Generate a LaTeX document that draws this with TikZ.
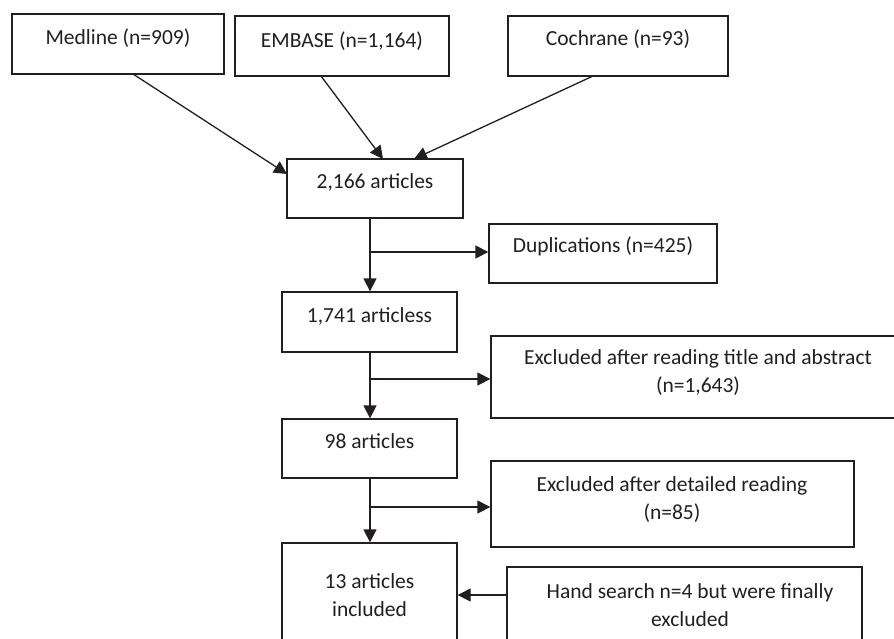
\documentclass[tikz,border=0pt]{standalone}
\usepackage{fontspec}
\setmainfont{Carlito}
\usetikzlibrary{arrows.meta,calc}
\definecolor{ink}{HTML}{231F20}
\tikzset{
  box/.style={draw=ink, line width=1.3pt, rectangle, inner sep=0pt, anchor=center},
  lbl/.style={text=ink, font=\fontsize{21.5}{28}\selectfont, align=center, inner sep=0pt},
  conn/.style={draw=ink, line width=1.3pt, -{Triangle[length=13pt,width=13pt]}},
}
\begin{document}
\begin{tikzpicture}[x=1pt,y=-1pt]
\clip (0,0) rectangle (894,638);
\fill[white] (0,0) rectangle (894,638);
% boxes
\node[box, minimum width=212, minimum height=60] (med) at (118,44) {};
\node[box, minimum width=214, minimum height=60] (emb) at (342,46) {};
\node[box, minimum width=220, minimum height=60] (coc) at (618,46) {};
\node[box, minimum width=176, minimum height=59] (a2166) at (375,188.5) {};
\node[box, minimum width=228, minimum height=59] (dup) at (603,253.5) {};
\node[box, minimum width=175, minimum height=60] (a1741) at (369.5,322) {};
\node[box, minimum width=414, minimum height=82] (ex1) at (698,377) {};
\node[box, minimum width=175, minimum height=59] (a98) at (369.5,448.5) {};
\node[box, minimum width=363, minimum height=86] (ex2) at (672.5,504) {};
\node[box, minimum width=175, minimum height=140] (a13) at (369.5,613) {};
\node[box, minimum width=355, minimum height=120] (hand) at (684.5,627) {};
% labels
\node[lbl] (tmed) at (118,38) {Medline (n=909)};
\node[lbl] (temb) at (342,41) {EMBASE (n=1,164)};
\node[lbl] (tcoc) at (618,39.5) {Cochrane (n=93)};
\node[lbl] (t2166) at (375,182) {2,166 articles};
\node[lbl] (tdup) at (603,246) {Duplications (n=425)};
\node[lbl] (t1741) at (369.5,316) {1,741 articless};
\node[lbl] (tex1) at (698,373) {Excluded after reading title and abstract\\(n=1,643)};
\node[lbl] (t98) at (369.5,441) {98 articles};
\node[lbl] (tex2) at (672,499.5) {Excluded after detailed reading\\(n=85)};
\node[lbl] (t13) at (369.5,595) {13 articles\\included};
\node[lbl] (thand) at (690,605) {Hand search n=4 but were finally\\excluded};
% junctions
\coordinate (j1) at (370,252);
\coordinate (j2) at (370,379);
\coordinate (j3) at (370,507);
\coordinate (mstart) at (133,74);
\coordinate (mend) at (287,174);
\coordinate (estart) at (321,76);
\coordinate (eend) at (383,159);
\coordinate (cstart) at (593,76);
\coordinate (cend) at (414,159);
% connectors
\draw[conn] (mstart) -- (mend);
\draw[conn] (estart) -- (eend);
\draw[conn] (cstart) -- (cend);
\draw[conn] (j1 |- a2166.south) -- (j1 |- a1741.north);
\draw[conn] (j1) -- (j1 -| dup.west);
\draw[conn] (j2 |- a1741.south) -- (j2 |- a98.north);
\draw[conn] (j2) -- (j2 -| ex1.west);
\draw[conn] (j3 |- a98.south) -- (j3 |- a13.north);
\draw[conn] (j3) -- (j3 -| ex2.west);
\draw[conn] (hand.west |- 0,595) -- (a13.east |- 0,595);
\end{tikzpicture}
\end{document}
